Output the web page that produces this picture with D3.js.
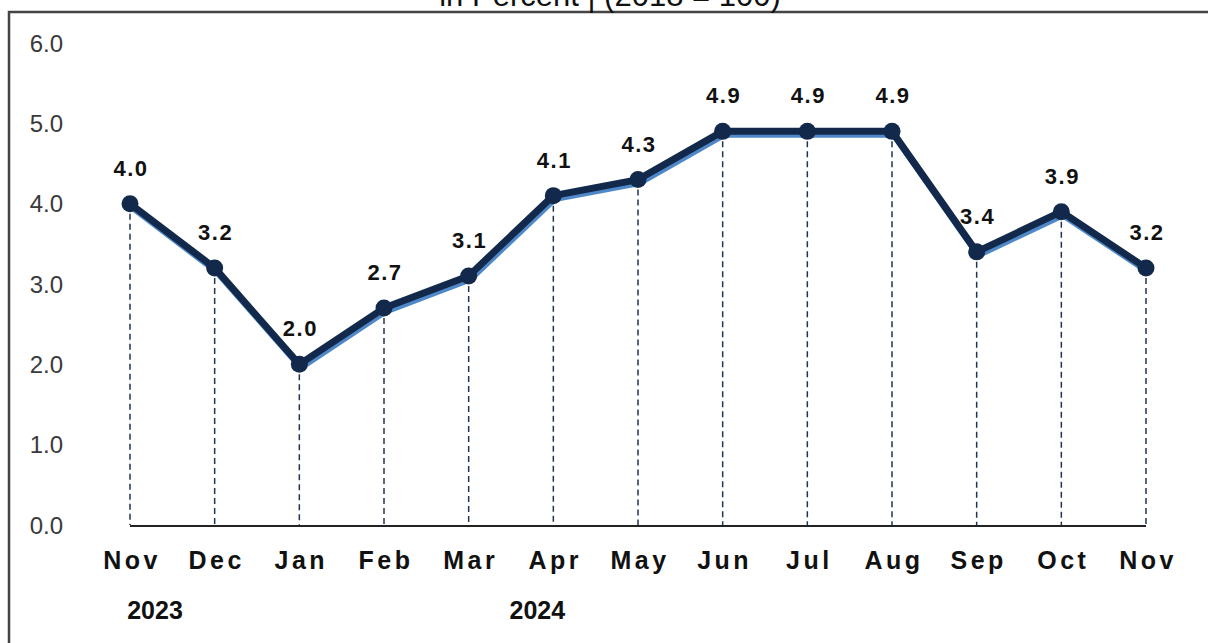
<!DOCTYPE html>
<html>
<head>
<meta charset="utf-8">
<script src="https://cdn.jsdelivr.net/npm/d3@7"></script>
<style>
  html, body { margin: 0; padding: 0; background: #fff; overflow: hidden; }
  #chart { width: 1208px; height: 643px; }
</style>
</head>
<body>
<div id="chart"></div>
<script>
// monthly rate, in percent
const months = ["Nov", "Dec", "Jan", "Feb", "Mar", "Apr", "May", "Jun", "Jul", "Aug", "Sep", "Oct", "Nov"];
const values = [4.0, 3.2, 2.0, 2.7, 3.1, 4.1, 4.3, 4.9, 4.9, 4.9, 3.4, 3.9, 3.2];
const yearLabels = [{idx: 0, label: "2023"}, {idx: 5, label: "2024"}];
const yTicks = [0, 1, 2, 3, 4, 5, 6];
const subtitle = "in Percent | (2018 = 100)";

const W = 1208, H = 643;
const svg = d3.select('#chart').append('svg').attr('width', W).attr('height', H);

// frame (right and bottom edges run off the page)
svg.append('rect')
  .attr('x', 9).attr('y', 12)
  .attr('width', W + 20).attr('height', H + 20)
  .attr('fill', 'none').attr('stroke', '#444').attr('stroke-width', 2.5);

// subtitle, mostly cut off at the top
svg.append('text')
  .attr('x', 610).attr('y', 6)
  .attr('text-anchor', 'middle')
  .attr('font-family', 'Liberation Sans, Arial, sans-serif')
  .attr('font-size', 31)
  .attr('fill', '#111')
  .text(subtitle);

const x = d3.scalePoint().domain(d3.range(months.length)).range([130, 1146]);
const y = d3.scaleLinear().domain([0, 6]).range([525, 43]);

// y tick labels
svg.append('g').selectAll('text')
  .data(yTicks)
  .enter().append('text')
  .attr('x', 63)
  .attr('y', d => y(d))
  .attr('dy', '0.36em')
  .attr('text-anchor', 'end')
  .attr('font-family', 'Liberation Sans, Arial, sans-serif')
  .attr('font-size', 24)
  .attr('fill', '#3a3a3a')
  .text(d => d.toFixed(1));

// dashed drop lines
svg.append('g').selectAll('line')
  .data(values)
  .enter().append('line')
  .attr('x1', (d, i) => x(i)).attr('x2', (d, i) => x(i))
  .attr('y1', d => y(d)).attr('y2', y(0))
  .attr('stroke', '#1f3552').attr('stroke-width', 1.5)
  .attr('stroke-dasharray', '6,4');

// baseline
svg.append('line')
  .attr('x1', x(0)).attr('x2', x(months.length - 1))
  .attr('y1', y(0) + 1).attr('y2', y(0) + 1)
  .attr('stroke', '#222').attr('stroke-width', 2);

const line = d3.line().x((d, i) => x(i)).y(d => y(d));

// light blue shadow under the line
svg.append('path')
  .datum(values)
  .attr('d', line)
  .attr('transform', 'translate(1.5,3.5)')
  .attr('fill', 'none')
  .attr('stroke', '#4f88c9')
  .attr('stroke-width', 6)
  .attr('stroke-linejoin', 'round');

svg.append('path')
  .datum(values)
  .attr('d', line)
  .attr('fill', 'none')
  .attr('stroke', '#13294b')
  .attr('stroke-width', 7)
  .attr('stroke-linejoin', 'round');

svg.append('g').selectAll('circle')
  .data(values)
  .enter().append('circle')
  .attr('cx', (d, i) => x(i))
  .attr('cy', d => y(d))
  .attr('r', 8.5)
  .attr('fill', '#13294b');

// value labels
svg.append('g').selectAll('text')
  .data(values)
  .enter().append('text')
  .attr('x', (d, i) => x(i) + 1)
  .attr('y', d => y(d) - 28)
  .attr('text-anchor', 'middle')
  .attr('font-family', 'Liberation Sans, Arial, sans-serif')
  .attr('font-weight', 'bold')
  .attr('font-size', 22)
  .attr('letter-spacing', '1.5px')
  .attr('fill', '#111')
  .text(d => d.toFixed(1));

// month labels
svg.append('g').selectAll('text')
  .data(months)
  .enter().append('text')
  .attr('x', (d, i) => x(i) + 2)
  .attr('y', 569)
  .attr('text-anchor', 'middle')
  .attr('font-family', 'Liberation Sans, Arial, sans-serif')
  .attr('font-weight', 'bold')
  .attr('font-size', 25)
  .attr('letter-spacing', '3.5px')
  .attr('fill', '#111')
  .text(d => d);

// year labels (2023 sits right of its month, 2024 a little left of Apr)
svg.append('g').selectAll('text')
  .data(yearLabels)
  .enter().append('text')
  .attr('x', d => x(d.idx) + (d.idx === 0 ? 25 : -16))
  .attr('y', 619)
  .attr('text-anchor', 'middle')
  .attr('font-family', 'Liberation Sans, Arial, sans-serif')
  .attr('font-weight', 'bold')
  .attr('font-size', 25)
  .attr('fill', '#111')
  .text(d => d.label);
</script>
</body>
</html>
